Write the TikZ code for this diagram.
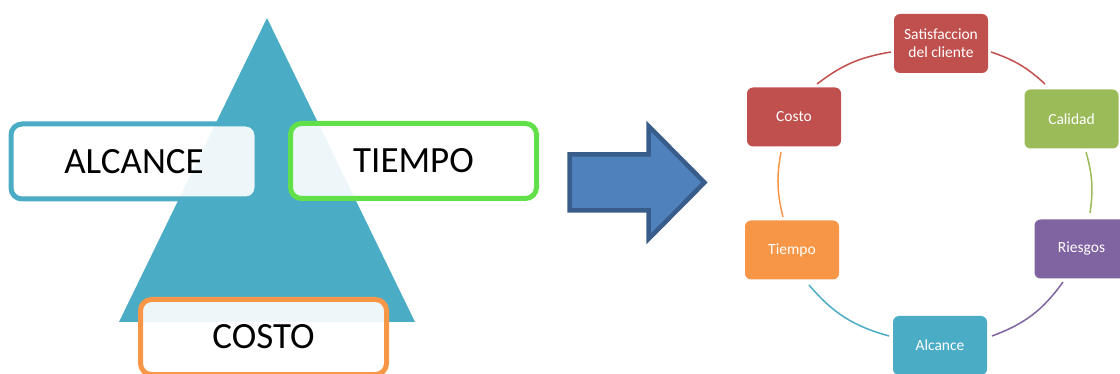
\documentclass[tikz,border=0pt]{standalone}
\usepackage{fontspec}
\setmainfont{Carlito}
\definecolor{tri}{HTML}{4BACC6}
\definecolor{grnb}{HTML}{62E04A}
\definecolor{orgb}{HTML}{F79646}
\definecolor{arrfill}{HTML}{4F81BD}
\definecolor{arrdraw}{HTML}{385D8A}
\definecolor{cred}{HTML}{C0504D}
\definecolor{cgreen}{HTML}{9BBB59}
\definecolor{cpurple}{HTML}{8064A2}
\definecolor{cblue}{HTML}{4BACC6}
\definecolor{corange}{HTML}{F79646}
\begin{document}
\begin{tikzpicture}[x=1pt,y=-1pt,
  bigbox/.style={draw=#1,line width=5pt,rounded corners=11pt,fill=white,fill opacity=0.9,
    text opacity=1,draw opacity=1,inner sep=0pt,minimum width=246pt,minimum height=75pt,
    font=\fontsize{37}{44}\selectfont},
  smallbox/.style={fill=#1,rounded corners=6pt,inner sep=0pt,minimum width=94pt,
    minimum height=59pt,text=white,align=center,font=\fontsize{15.5}{18}\selectfont},
  link/.style={draw=#1,line width=1.5pt}]
\useasboundingbox (0,0) rectangle (1120,374);
\clip (0,0) rectangle (1120,374);
% triangle
\fill[tri] (267,18) -- (415,322) -- (119,322) -- cycle;
% boxes on triangle
\node[bigbox=tri] (alcance) at (134,161.5) {ALCANCE};
\node[bigbox=grnb] (tiempo) at (413.5,161) {TIEMPO};
\node[bigbox=orgb] (costo) at (263.5,337) {COSTO};
% block arrow
\draw[draw=arrdraw,fill=arrfill,line width=4.5pt,miter limit=10]
  (569.5,154.5) -- (648.5,154.5) -- (648.5,126) -- (704.5,182.5)
  -- (648.5,239) -- (648.5,210.5) -- (569.5,210.5) -- cycle;
% cycle nodes
\node[smallbox=cred] (sat) at (941,43.5) {Satisfaccion\\del cliente};
\node[smallbox=cgreen] (cal) at (1071.5,119) {Calidad};
\node[smallbox=cpurple] (ris) at (1081.5,249) {Riesgos};
\node[smallbox=cblue] (alc) at (940,345.5) {Alcance};
\node[smallbox=corange] (tie) at (792,250) {Tiempo};
\node[smallbox=cred] (cos) at (794,117) {Costo};
% connector ends
\coordinate (c1a) at (991,52);   \coordinate (c1b) at (1045,84);
\coordinate (c2a) at (1086,152); \coordinate (c2b) at (1090,213);
\coordinate (c3a) at (1063,282); \coordinate (c3b) at (992,336);
\coordinate (c4a) at (889,336);  \coordinate (c4b) at (809,285);
\coordinate (c5a) at (783,217);  \coordinate (c5b) at (781,152);
\coordinate (c6a) at (817,84);   \coordinate (c6b) at (891,52);
\draw[link=cred] (c1a) to[bend left=12] (c1b);
\draw[link=cgreen] (c2a) to[bend left=12] (c2b);
\draw[link=cpurple] (c3a) to[bend left=17] (c3b);
\draw[link=cblue] (c4a) to[bend left=17] (c4b);
\draw[link=corange] (c5a) to[bend left=12] (c5b);
\draw[link=cred] (c6a) to[bend left=14] (c6b);
\end{tikzpicture}
\end{document}
